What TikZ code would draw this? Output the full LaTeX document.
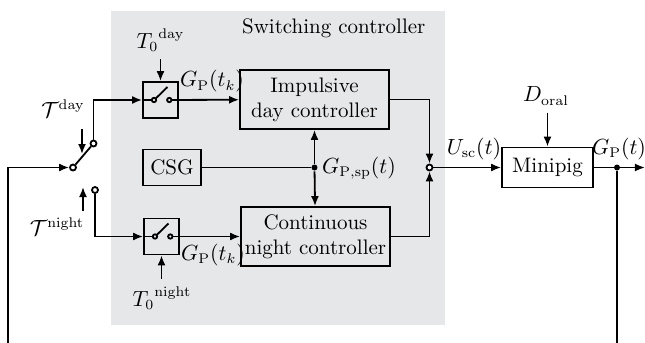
\documentclass[tikz,border=0pt]{standalone}
\usepackage{amsmath}
\usepackage{amssymb}
\usepackage{tikz}
\usetikzlibrary{arrows.meta,positioning}
\definecolor{scgray}{RGB}{230,231,233}
\tikzset{
	defaultstyle/.style={
		>={Latex[length=5pt,width=4pt]},
		line width=0.9pt,
		x=0.5pt, y=-0.5pt,
		font=\fontsize{10.5}{12.5}\selectfont}}

\begin{document}
\begin{tikzpicture}[defaultstyle,
	every text node part/.style={align=center},
	block/.style={draw, inner sep=0pt},
	sampler/.style={draw, inner sep=0pt, minimum width=17.5pt, minimum height=18pt},
	contact/.style={circle, draw, fill=white, inner sep=0pt, minimum size=3pt},
	branch/.style={circle, fill, inner sep=0pt, minimum size=3pt},
	]
	\useasboundingbox (0,0) rectangle (645,343);

	% switching controller area
	\fill[scgray] (111,11) rectangle (445,325);
	\node[anchor=east] (sctitle) at (433,28) {Switching controller};

	\node[block, minimum width=74.5pt, minimum height=29.5pt] (dayc) at (314.5,99.5) {Impulsive\\day controller};
	\node[block, minimum width=74.5pt, minimum height=29.5pt] (nightc) at (315.5,236.5) {Continuous\\night controller};
	\node[block, minimum width=29pt, minimum height=18pt] (csg) at (172,167.5) {CSG};
	\node[block, minimum width=45.5pt, minimum height=20pt] (pig) at (547.5,167.5) {Minipig};

	\node[sampler] (sampd) at (160.5,100) {};
	\node[sampler] (sampn) at (161.5,236.5) {};
	\foreach \s in {sampd, sampn} {
		\begin{scope}[shift={(\s.center)}]
			\draw (-17.5,0) -- (-8.7,0);
			\draw (-6.5,0) circle[radius=2.2];
			\draw (-4.8,-1.5) -- (7,-13);
			\draw (8.8,0) circle[radius=2.2];
			\draw (11,0) -- (17.5,0);
		\end{scope}
	}

	% day/night switch
	\node[contact] (swp) at (73,167.5) {};
	\node[contact] (swd) at (93.5,143.5) {};
	\node[contact] (swn) at (95,190) {};
	\coordinate (fbl) at (8,343);
	\coordinate (tdtop) at (82,129);
	\coordinate (tdbot) at (82,154);
	\coordinate (tnbot) at (83,211);
	\coordinate (tntop) at (83,187);
	\node (tday) at (63,109) {$\mathcal{T}^{\mathrm{day}}$};
	\node (tnight) at (57,227) {$\mathcal{T}^{\mathrm{night}}$};

	\draw[->] (fbl) |- (swp);
	\draw (swp) -- (swd);
	\draw[->] (swd) |- (sampd);
	\draw[->] (swn) |- (sampn);
	\draw[->] (tdtop) -- (tdbot);
	\draw[->] (tnbot) -- (tntop);

	% sampling instants
	\node (t0d) at (160.5,40) {${T_0}^{\mathrm{day}}$};
	\node (t0n) at (162,298) {${T_0}^{\mathrm{night}}$};
	\draw[->] (t0d.south -| sampd) -- (sampd);
	\draw[->] (t0n.north -| sampn) -- (sampn);

	\draw[->] (sampd) -- node[above, pos=0.55] {$G_{\mathrm{P}}(t_k)$} (dayc);
	\draw[->] (sampn) -- node[below, pos=0.55] {$G_{\mathrm{P}}(t_k)$} (nightc);

	% set point
	\node[branch] (jsp) at (314.5,167.5) {};
	\node (gsp) at (359,168) {$G_{\mathrm{P,sp}}(t)$};
	\draw (csg) -- (jsp);
	\draw[->] (jsp) -- (dayc);
	\draw[->] (jsp) -- (nightc);

	% output of switching controller
	\node[contact] (sum) at (429.5,167.5) {};
	\draw[->] (dayc) -| (sum);
	\draw[->] (nightc) -| (sum);
	\draw[->] (sum) -- node[above, pos=0.6] {$U_{\mathrm{sc}}(t)$} (pig);

	% plant
	\node (doral) at (546,96) {$D_{\mathrm{oral}}$};
	\draw[->] (doral.south -| pig) -- (pig);
	\node[branch] (jout) at (617,167.5) {};
	\coordinate (gout) at (645,167.5);
	\coordinate (fbr) at (617,343);
	\node (gp) at (619,149) {$G_{\mathrm{P}}(t)$};
	\draw[->] (pig) -- (gout);
	\draw (jout) -- (fbr);

\end{tikzpicture}
\end{document}
